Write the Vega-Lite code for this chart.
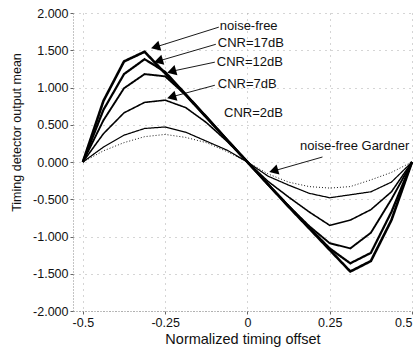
{
  "$schema": "https://vega.github.io/schema/vega-lite/v6.json",
  "width": 339,
  "height": 298,
  "autosize": {"type": "none"},
  "padding": {"left": 73, "top": 13, "right": 6, "bottom": 40},
  "background": "white",
  "config": {
    "view": {"stroke": null},
    "font": "Liberation Sans",
    "locale": {"number": {"decimal": ".", "thousands": ",", "grouping": [3], "currency": ["$", ""], "minus": "-"}},
    "axis": {
      "labelFont": "Liberation Sans",
      "titleFont": "Liberation Sans",
      "labelColor": "#111",
      "titleColor": "#111",
      "titleFontWeight": "normal",
      "domainColor": "#888",
      "domainDash": [1, 2],
      "tickColor": "#666",
      "tickSize": 3,
      "gridColor": "#aaa",
      "gridDash": [1, 5],
      "gridWidth": 1
    }
  },
  "datasets": {
    "curves": [
      {"offset": -0.5, "value": 0, "series": "noise-free"},
      {"offset": -0.4375, "value": 0.82, "series": "noise-free"},
      {"offset": -0.375, "value": 1.35, "series": "noise-free"},
      {"offset": -0.3125, "value": 1.48, "series": "noise-free"},
      {"offset": -0.25, "value": 1.19, "series": "noise-free"},
      {"offset": -0.1875, "value": 0.9, "series": "noise-free"},
      {"offset": -0.125, "value": 0.6, "series": "noise-free"},
      {"offset": -0.0625, "value": 0.3, "series": "noise-free"},
      {"offset": 0, "value": 0, "series": "noise-free"},
      {"offset": 0.0625, "value": -0.3, "series": "noise-free"},
      {"offset": 0.125, "value": -0.6, "series": "noise-free"},
      {"offset": 0.1875, "value": -0.89, "series": "noise-free"},
      {"offset": 0.25, "value": -1.18, "series": "noise-free"},
      {"offset": 0.3125, "value": -1.47, "series": "noise-free"},
      {"offset": 0.375, "value": -1.33, "series": "noise-free"},
      {"offset": 0.4375, "value": -0.78, "series": "noise-free"},
      {"offset": 0.5, "value": 0, "series": "noise-free"},

      {"offset": -0.5, "value": 0, "series": "CNR=17dB"},
      {"offset": -0.4375, "value": 0.7, "series": "CNR=17dB"},
      {"offset": -0.375, "value": 1.18, "series": "CNR=17dB"},
      {"offset": -0.3125, "value": 1.38, "series": "CNR=17dB"},
      {"offset": -0.25, "value": 1.21, "series": "CNR=17dB"},
      {"offset": -0.1875, "value": 0.91, "series": "CNR=17dB"},
      {"offset": -0.125, "value": 0.61, "series": "CNR=17dB"},
      {"offset": -0.0625, "value": 0.3, "series": "CNR=17dB"},
      {"offset": 0, "value": 0, "series": "CNR=17dB"},
      {"offset": 0.0625, "value": -0.3, "series": "CNR=17dB"},
      {"offset": 0.125, "value": -0.59, "series": "CNR=17dB"},
      {"offset": 0.1875, "value": -0.88, "series": "CNR=17dB"},
      {"offset": 0.25, "value": -1.16, "series": "CNR=17dB"},
      {"offset": 0.3125, "value": -1.36, "series": "CNR=17dB"},
      {"offset": 0.375, "value": -1.22, "series": "CNR=17dB"},
      {"offset": 0.4375, "value": -0.67, "series": "CNR=17dB"},
      {"offset": 0.5, "value": 0, "series": "CNR=17dB"},

      {"offset": -0.5, "value": 0, "series": "CNR=12dB"},
      {"offset": -0.4375, "value": 0.56, "series": "CNR=12dB"},
      {"offset": -0.375, "value": 0.99, "series": "CNR=12dB"},
      {"offset": -0.3125, "value": 1.18, "series": "CNR=12dB"},
      {"offset": -0.25, "value": 1.15, "series": "CNR=12dB"},
      {"offset": -0.1875, "value": 0.9, "series": "CNR=12dB"},
      {"offset": -0.125, "value": 0.6, "series": "CNR=12dB"},
      {"offset": -0.0625, "value": 0.3, "series": "CNR=12dB"},
      {"offset": 0, "value": 0, "series": "CNR=12dB"},
      {"offset": 0.0625, "value": -0.3, "series": "CNR=12dB"},
      {"offset": 0.125, "value": -0.59, "series": "CNR=12dB"},
      {"offset": 0.1875, "value": -0.86, "series": "CNR=12dB"},
      {"offset": 0.25, "value": -1.09, "series": "CNR=12dB"},
      {"offset": 0.3125, "value": -1.16, "series": "CNR=12dB"},
      {"offset": 0.375, "value": -0.95, "series": "CNR=12dB"},
      {"offset": 0.4375, "value": -0.5, "series": "CNR=12dB"},
      {"offset": 0.5, "value": 0, "series": "CNR=12dB"},

      {"offset": -0.5, "value": 0, "series": "CNR=7dB"},
      {"offset": -0.4375, "value": 0.38, "series": "CNR=7dB"},
      {"offset": -0.375, "value": 0.66, "series": "CNR=7dB"},
      {"offset": -0.3125, "value": 0.8, "series": "CNR=7dB"},
      {"offset": -0.25, "value": 0.83, "series": "CNR=7dB"},
      {"offset": -0.1875, "value": 0.73, "series": "CNR=7dB"},
      {"offset": -0.125, "value": 0.53, "series": "CNR=7dB"},
      {"offset": -0.0625, "value": 0.28, "series": "CNR=7dB"},
      {"offset": 0, "value": 0, "series": "CNR=7dB"},
      {"offset": 0.0625, "value": -0.26, "series": "CNR=7dB"},
      {"offset": 0.125, "value": -0.47, "series": "CNR=7dB"},
      {"offset": 0.1875, "value": -0.67, "series": "CNR=7dB"},
      {"offset": 0.25, "value": -0.85, "series": "CNR=7dB"},
      {"offset": 0.3125, "value": -0.78, "series": "CNR=7dB"},
      {"offset": 0.375, "value": -0.64, "series": "CNR=7dB"},
      {"offset": 0.4375, "value": -0.4, "series": "CNR=7dB"},
      {"offset": 0.5, "value": 0, "series": "CNR=7dB"},

      {"offset": -0.5, "value": 0, "series": "CNR=2dB"},
      {"offset": -0.4375, "value": 0.2, "series": "CNR=2dB"},
      {"offset": -0.375, "value": 0.36, "series": "CNR=2dB"},
      {"offset": -0.3125, "value": 0.45, "series": "CNR=2dB"},
      {"offset": -0.25, "value": 0.47, "series": "CNR=2dB"},
      {"offset": -0.1875, "value": 0.4, "series": "CNR=2dB"},
      {"offset": -0.125, "value": 0.28, "series": "CNR=2dB"},
      {"offset": -0.0625, "value": 0.16, "series": "CNR=2dB"},
      {"offset": 0, "value": 0, "series": "CNR=2dB"},
      {"offset": 0.0625, "value": -0.19, "series": "CNR=2dB"},
      {"offset": 0.125, "value": -0.31, "series": "CNR=2dB"},
      {"offset": 0.1875, "value": -0.42, "series": "CNR=2dB"},
      {"offset": 0.25, "value": -0.48, "series": "CNR=2dB"},
      {"offset": 0.3125, "value": -0.44, "series": "CNR=2dB"},
      {"offset": 0.375, "value": -0.4, "series": "CNR=2dB"},
      {"offset": 0.4375, "value": -0.27, "series": "CNR=2dB"},
      {"offset": 0.5, "value": 0, "series": "CNR=2dB"},

      {"offset": -0.5, "value": 0, "series": "noise-free Gardner"},
      {"offset": -0.4375, "value": 0.15, "series": "noise-free Gardner"},
      {"offset": -0.375, "value": 0.26, "series": "noise-free Gardner"},
      {"offset": -0.3125, "value": 0.34, "series": "noise-free Gardner"},
      {"offset": -0.25, "value": 0.37, "series": "noise-free Gardner"},
      {"offset": -0.1875, "value": 0.33, "series": "noise-free Gardner"},
      {"offset": -0.125, "value": 0.26, "series": "noise-free Gardner"},
      {"offset": -0.0625, "value": 0.14, "series": "noise-free Gardner"},
      {"offset": 0, "value": 0, "series": "noise-free Gardner"},
      {"offset": 0.0625, "value": -0.16, "series": "noise-free Gardner"},
      {"offset": 0.125, "value": -0.27, "series": "noise-free Gardner"},
      {"offset": 0.1875, "value": -0.33, "series": "noise-free Gardner"},
      {"offset": 0.25, "value": -0.35, "series": "noise-free Gardner"},
      {"offset": 0.3125, "value": -0.33, "series": "noise-free Gardner"},
      {"offset": 0.375, "value": -0.24, "series": "noise-free Gardner"},
      {"offset": 0.4375, "value": -0.14, "series": "noise-free Gardner"},
      {"offset": 0.5, "value": 0, "series": "noise-free Gardner"}
    ],
    "arrows": [
      {"arrow": "noise-free", "offset": -0.087, "value": 1.81},
      {"arrow": "noise-free", "offset": -0.285, "value": 1.535},
      {"arrow": "CNR=17dB", "offset": -0.096, "value": 1.58},
      {"arrow": "CNR=17dB", "offset": -0.278, "value": 1.345},
      {"arrow": "CNR=12dB", "offset": -0.099, "value": 1.34},
      {"arrow": "CNR=12dB", "offset": -0.238, "value": 1.21},
      {"arrow": "CNR=7dB", "offset": -0.099, "value": 1.03},
      {"arrow": "CNR=7dB", "offset": -0.238, "value": 0.865},
      {"arrow": "noise-free Gardner", "offset": 0.228, "value": 0.067},
      {"arrow": "noise-free Gardner", "offset": 0.072, "value": -0.13}
    ],
    "heads": [
      {"arrow": "noise-free", "offset": -0.275, "value": 1.55},
      {"arrow": "CNR=17dB", "offset": -0.266, "value": 1.362},
      {"arrow": "CNR=12dB", "offset": -0.226, "value": 1.222},
      {"arrow": "CNR=7dB", "offset": -0.226, "value": 0.877},
      {"arrow": "noise-free Gardner", "offset": 0.084, "value": -0.113}
    ],
    "labels": [
      {"text": "noise-free", "offset": -0.084, "value": 1.823},
      {"text": "CNR=17dB", "offset": -0.09, "value": 1.595},
      {"text": "CNR=12dB", "offset": -0.093, "value": 1.342},
      {"text": "CNR=7dB", "offset": -0.09, "value": 1.047},
      {"text": "CNR=2dB", "offset": -0.071, "value": 0.658},
      {"text": "noise-free Gardner", "offset": 0.16, "value": 0.215}
    ]
  },
  "encoding": {
    "x": {
      "field": "offset",
      "type": "quantitative",
      "scale": {"domain": [-0.53, 0.5], "nice": false, "zero": false},
      "axis": {
        "title": "Normalized timing offset",
        "values": [-0.5, -0.25, 0, 0.25, 0.5],
        "labelExpr": "'' + datum.value",
        "labelFontSize": 12.5,
        "labelPadding": 2,
        "titleFontSize": 14.5,
        "titlePadding": 4,
        "grid": true
      }
    },
    "y": {
      "field": "value",
      "type": "quantitative",
      "scale": {"domain": [-2, 2], "nice": false},
      "axis": {
        "title": "Timing detector output mean",
        "values": [-2, -1.5, -1, -0.5, 0, 0.5, 1, 1.5, 2],
        "format": ".3f",
        "labelFontSize": 12.5,
        "labelPadding": 2,
        "titleFontSize": 12.5,
        "titleAngle": -90,
        "titleAlign": "center",
        "titleBaseline": "middle",
        "titleX": -57,
        "titleY": 119,
        "grid": true
      }
    }
  },
  "layer": [
    {
      "data": {"name": "curves"},
      "mark": {"type": "line", "color": "black"},
      "encoding": {
        "detail": {"field": "series"},
        "strokeWidth": {
          "field": "series",
          "type": "nominal",
          "scale": {"domain": ["noise-free", "CNR=17dB", "CNR=12dB", "CNR=7dB", "CNR=2dB", "noise-free Gardner"], "range": [2.6, 0.9, 0.9, 0.9, 0.9, 1]},
          "legend": null
        },
        "strokeDash": {
          "field": "series",
          "type": "nominal",
          "scale": {"domain": ["noise-free", "CNR=17dB", "CNR=12dB", "CNR=7dB", "CNR=2dB", "noise-free Gardner"], "range": [[1, 0], [1, 0], [1, 0], [1, 0], [1, 0], [1, 2]]},
          "legend": null
        }
      }
    },
    {
      "data": {"name": "arrows"},
      "mark": {"type": "line", "color": "black", "strokeWidth": 0.9},
      "encoding": {"detail": {"field": "arrow"}}
    },
    {
      "data": {"name": "heads"},
      "mark": {"type": "point", "shape": "triangle", "filled": true, "color": "black", "opacity": 1, "size": 110, "angle": 254}
    },
    {
      "data": {"name": "labels"},
      "mark": {"type": "text", "align": "left", "baseline": "middle", "fontSize": 13, "font": "Liberation Sans", "color": "#111"},
      "encoding": {"text": {"field": "text"}}
    }
  ]
}
